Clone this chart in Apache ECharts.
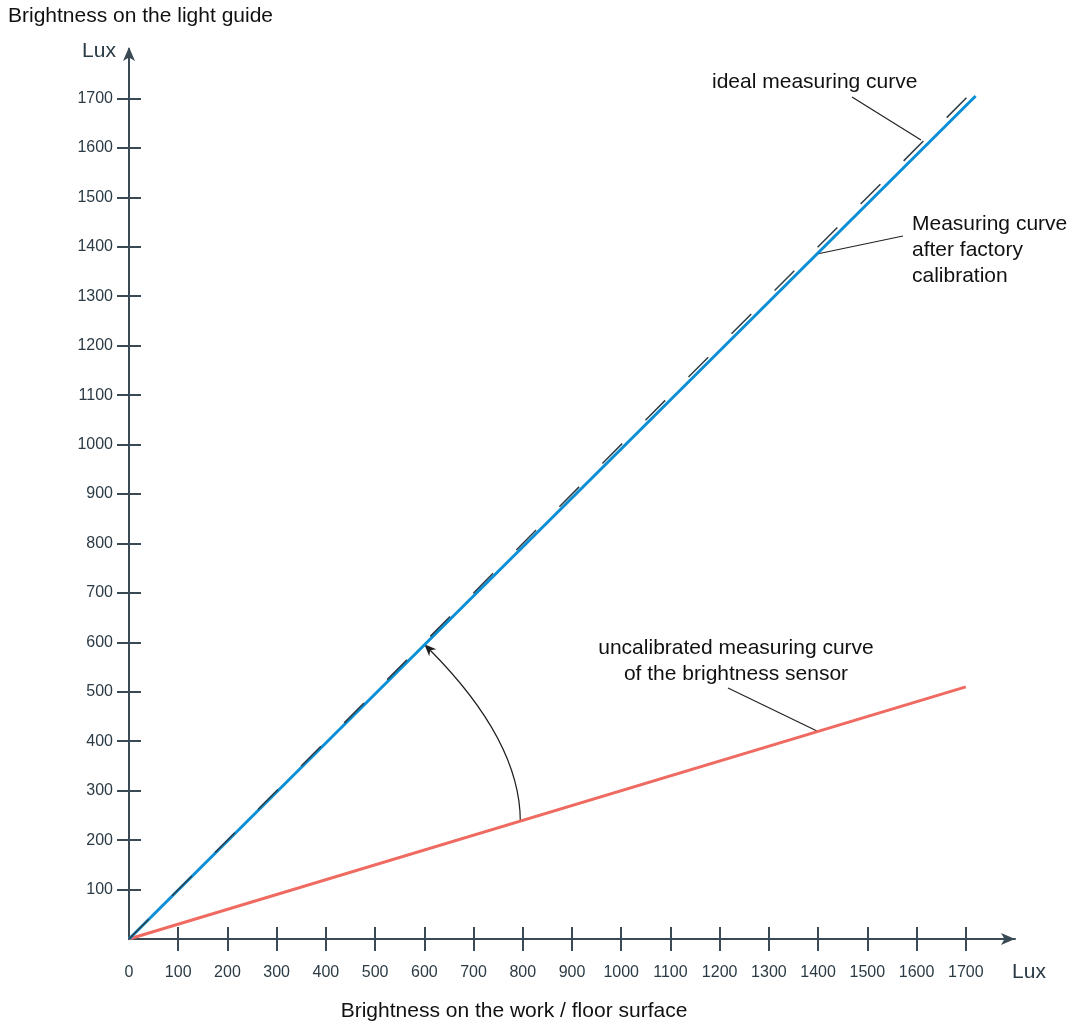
<!DOCTYPE html>
<html>
<head>
<meta charset="utf-8">
<script src="https://cdn.jsdelivr.net/npm/echarts@6/dist/echarts.min.js"></script>
<style>
  html, body { margin: 0; padding: 0; background: #fff; }
  #main { width: 1079px; height: 1024px; }
</style>
</head>
<body>
<div id="main"></div>
<script>
var dom = document.getElementById('main');
var myChart = echarts.init(dom);

// tick values (Lux)
var tickValues = [100, 200, 300, 400, 500, 600, 700, 800, 900, 1000, 1100, 1200, 1300, 1400, 1500, 1600, 1700];
var xLabelValues = [0].concat(tickValues);

// the three curves, [x, y] in Lux
var idealCurve = [[0, 0], [1710, 1710]];
var factoryCurve = [[0, 0], [1720, 1705]];
var uncalibratedCurve = [[0, 0], [1700, 510]];

// calibration arrow: from uncalibrated curve to factory curve (data coords)
var arrowFrom = [795, 238];
var arrowControl = [795, 400];
var arrowTo = [600, 596];

var axisColor = '#3a4a54';
var labelColor = '#2b3b45';
var font = 'Liberation Sans';

function plain(v) { return String(v); }

var option = {
    animation: false,
    grid: { left: 129, right: 64, top: 49, bottom: 85 },
    xAxis: [{
        type: 'value',
        min: 0,
        max: 1800,
        interval: 100,
        splitLine: { show: false },
        axisLine: {
            lineStyle: { color: axisColor, width: 2 },
            symbol: ['none', 'arrow'],
            symbolSize: [9, 14],
            symbolOffset: [0, 0]
        },
        axisTick: { show: true, length: 12, customValues: tickValues, lineStyle: { color: axisColor, width: 2 } },
        axisLabel: {
            customValues: xLabelValues,
            formatter: plain,
            margin: 26,
            color: labelColor,
            fontFamily: font,
            fontSize: 16
        }
    }, {
        type: 'value',
        position: 'bottom',
        offset: 0,
        min: 0,
        max: 1800,
        interval: 100,
        splitLine: { show: false },
        axisLine: { show: false },
        axisTick: { show: true, inside: true, length: 12, customValues: tickValues, lineStyle: { color: axisColor, width: 2 } },
        axisLabel: { show: false }
    }],
    yAxis: [{
        type: 'value',
        min: 0,
        max: 1800,
        interval: 100,
        splitLine: { show: false },
        axisLine: {
            lineStyle: { color: axisColor, width: 2 },
            symbol: ['none', 'arrow'],
            symbolSize: [9, 14],
            symbolOffset: [0, 2]
        },
        axisTick: { show: true, length: 12, customValues: tickValues, lineStyle: { color: axisColor, width: 2 } },
        axisLabel: {
            customValues: tickValues,
            formatter: plain,
            margin: 16,
            color: labelColor,
            fontFamily: font,
            fontSize: 16
        }
    }, {
        type: 'value',
        position: 'left',
        offset: 0,
        min: 0,
        max: 1800,
        interval: 100,
        splitLine: { show: false },
        axisLine: { show: false },
        axisTick: { show: true, inside: true, length: 12, customValues: tickValues, lineStyle: { color: axisColor, width: 2 } },
        axisLabel: { show: false }
    }],
    series: [{
        name: 'uncalibrated',
        type: 'line',
        data: uncalibratedCurve,
        symbol: 'none',
        lineStyle: { color: '#ef6a61', width: 3 }
    }, {
        name: 'factory',
        type: 'line',
        data: factoryCurve,
        symbol: 'none',
        lineStyle: { color: '#0a8fd6', width: 3 }
    }, {
        name: 'ideal',
        type: 'line',
        data: idealCurve,
        symbol: 'none',
        z: 3,
        lineStyle: { color: '#2e3c44', width: 1.5, type: [28, 33] }
    }],
    graphic: [
        { type: 'text', left: 8, top: 6, style: { text: 'Brightness on the light guide', fontSize: 21, fontFamily: font, fill: '#111' } },
        { type: 'text', x: 99, y: 51, style: { text: 'Lux', fontSize: 21, fontFamily: font, fill: labelColor, align: 'center', verticalAlign: 'middle' } },
        { type: 'text', x: 1029, y: 972, style: { text: 'Lux', fontSize: 21, fontFamily: font, fill: labelColor, align: 'center', verticalAlign: 'middle' } },
        { type: 'text', x: 514, y: 1011, style: { text: 'Brightness on the work / floor surface', fontSize: 21, fontFamily: font, fill: '#111', align: 'center', verticalAlign: 'middle' } },
        { type: 'text', x: 712, y: 82, style: { text: 'ideal measuring curve', fontSize: 21, fontFamily: font, fill: '#111', verticalAlign: 'middle' } },
        { type: 'text', x: 912, y: 211, style: { text: 'Measuring curve\nafter factory\ncalibration', fontSize: 21, lineHeight: 26, fontFamily: font, fill: '#111' } },
        { type: 'text', x: 736, y: 635, style: { text: 'uncalibrated measuring curve\nof the brightness sensor', fontSize: 21, lineHeight: 26, fontFamily: font, fill: '#111', align: 'center' } },
        { type: 'line', shape: { x1: 852, y1: 97, x2: 921, y2: 140 }, style: { stroke: '#222', lineWidth: 1.2 } },
        { type: 'line', shape: { x1: 903, y1: 236, x2: 817, y2: 254 }, style: { stroke: '#222', lineWidth: 1.2 } },
        { type: 'line', shape: { x1: 728, y1: 688, x2: 817, y2: 731 }, style: { stroke: '#222', lineWidth: 1.2 } }
    ]
};

myChart.setOption(option);

// curved calibration arrow, placed through the grid's own scales
var p0 = myChart.convertToPixel({ gridIndex: 0 }, arrowFrom);
var pc = myChart.convertToPixel({ gridIndex: 0 }, arrowControl);
var p1 = myChart.convertToPixel({ gridIndex: 0 }, arrowTo);
var dx = p1[0] - pc[0], dy = p1[1] - pc[1];
var len = Math.sqrt(dx * dx + dy * dy);
var ux = dx / len, uy = dy / len;
var nx = -uy, ny = ux;
var headLen = 12, headW = 5;
var base = [p1[0] - ux * headLen, p1[1] - uy * headLen];
var notch = [p1[0] - ux * headLen * 0.7, p1[1] - uy * headLen * 0.7];

myChart.setOption({
    graphic: option.graphic.concat([
        {
            type: 'bezierCurve',
            shape: { x1: p0[0], y1: p0[1], cpx1: pc[0], cpy1: pc[1], x2: notch[0], y2: notch[1] },
            style: { stroke: '#1e1e1e', lineWidth: 1.2, fill: null }
        },
        {
            type: 'polygon',
            shape: { points: [p1, [base[0] + nx * headW, base[1] + ny * headW], notch, [base[0] - nx * headW, base[1] - ny * headW]] },
            style: { fill: '#1e1e1e' }
        }
    ])
});
</script>
</body>
</html>
